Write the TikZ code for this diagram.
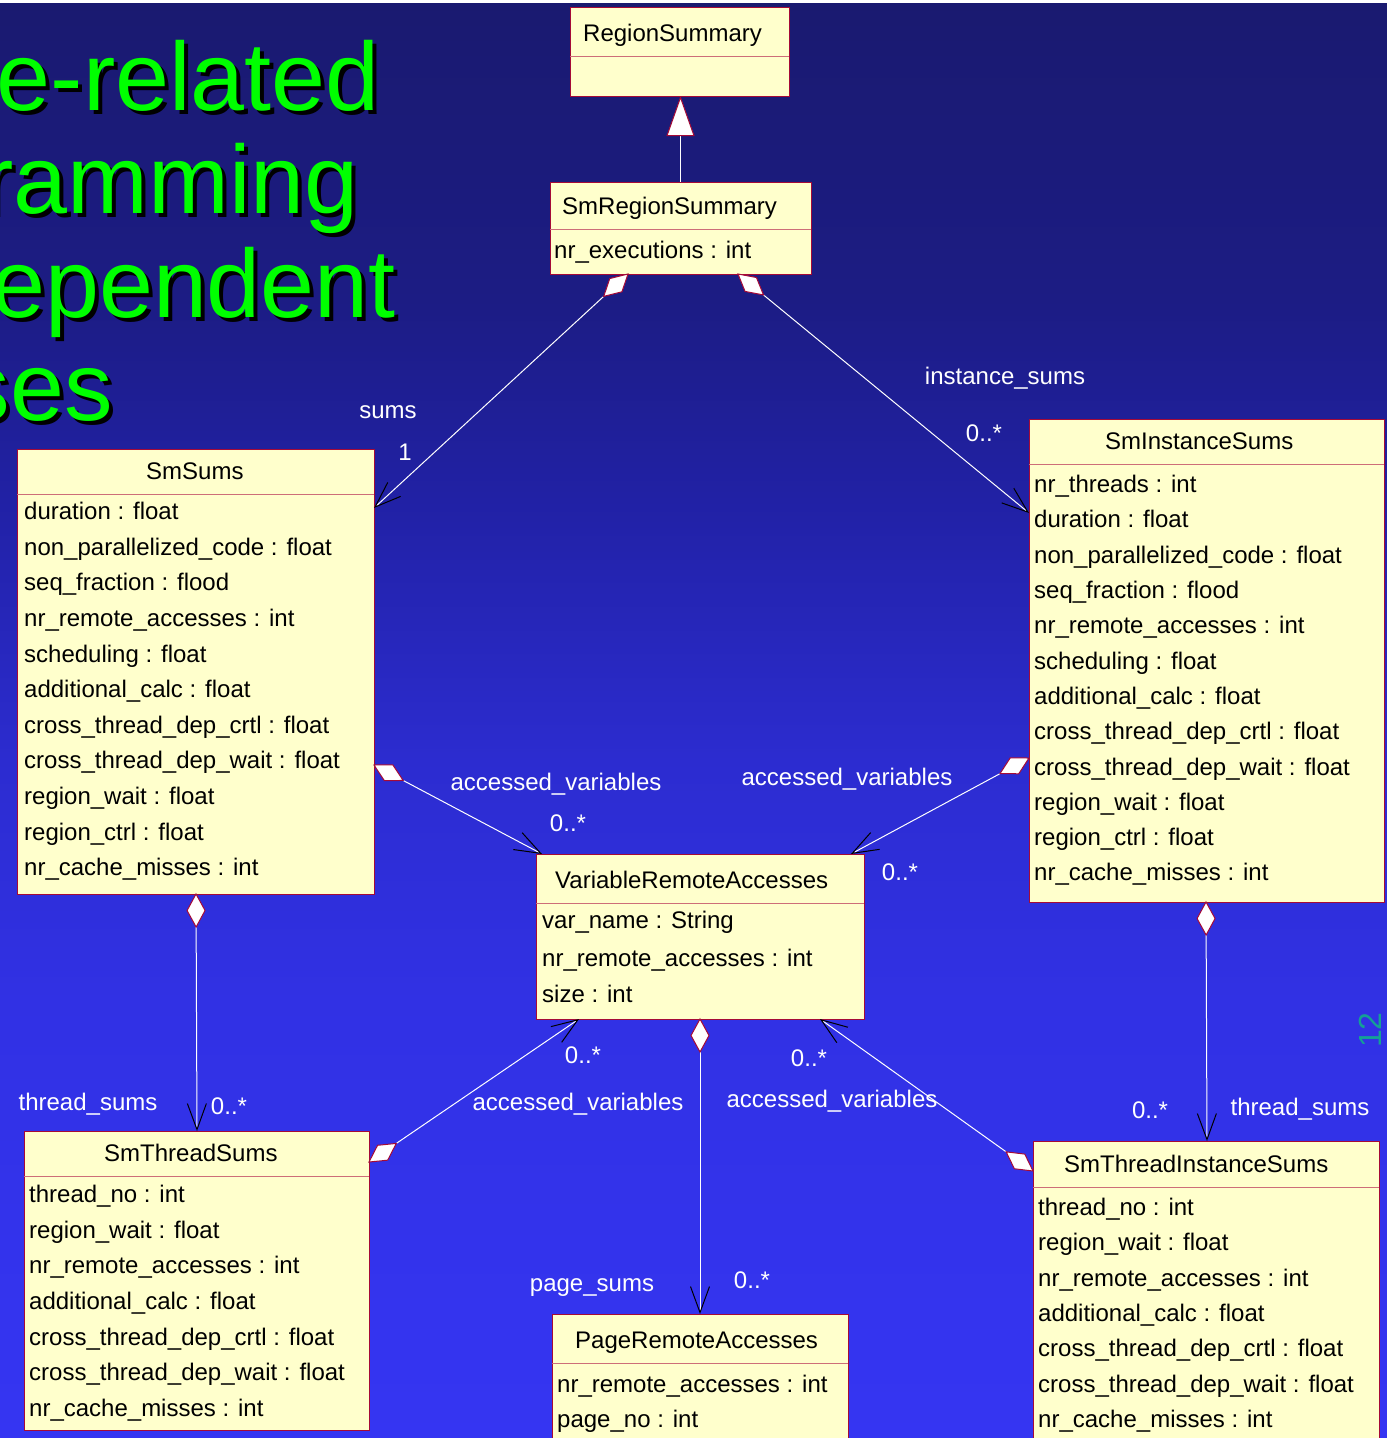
\documentclass[tikz,border=0pt]{standalone}
\usepackage{fontspec}
\setmainfont{Liberation Sans}
\usetikzlibrary{calc,arrows.meta}

\definecolor{bgA}{RGB}{26,26,112}
\definecolor{bgB}{RGB}{28,28,132}
\definecolor{bgC}{RGB}{33,33,165}
\definecolor{bgD}{RGB}{44,44,208}
\definecolor{bgE}{RGB}{49,49,228}
\definecolor{bgF}{RGB}{53,53,242}
\definecolor{boxfill}{RGB}{255,255,204}
\definecolor{boxred}{RGB}{165,10,55}
\definecolor{divred}{RGB}{205,110,120}
\definecolor{titlegreen}{RGB}{0,255,0}
\definecolor{pageteal}{RGB}{20,160,150}

% aggregation: white diamond at the whole end (#1), open arrow at the part end (#2)
\newcommand{\aggline}[2]{%
  \draw[nav] ($(#1)!33pt!(#2)$) -- (#2);
  \filldraw[diam] (#1) -- ($(#1)!16.5pt!(#2)!9pt!90:(#2)$) -- ($(#1)!33pt!(#2)$)
    -- ($(#1)!16.5pt!(#2)!9pt!-90:(#2)$) -- cycle;}

\begin{document}
\begin{tikzpicture}[x=1pt,y=-1pt,
  box/.style={draw=boxred, fill=boxfill, line width=1pt, anchor=north west,
    inner sep=0pt, outer sep=0pt},
  divider/.style={draw=divred, line width=1pt},
  cls/.style={font=\fontsize{24}{28}\selectfont, anchor=mid west, inner sep=0pt, yshift=-4pt},
  lbl/.style={font=\fontsize{24}{28}\selectfont, text=white, anchor=mid, inner sep=0pt, yshift=-4pt},
  conn/.style={draw=white, line width=1pt},
  nav/.style={conn, -{Straight Barb[length=26pt,width=19pt,color=black,line width=1pt]}},
  diam/.style={fill=white, draw=boxred, line width=1pt, line join=miter},
  big/.style={font=\fontsize{97}{100}\selectfont, anchor=base east, inner sep=0pt},
]
\useasboundingbox (0,0) rectangle (1387,1438);
\clip (0,0) rectangle (1387,1438);

% slide background
\fill[white] (0,0) rectangle (1387,3);
\shade[top color=bgA, bottom color=bgB] (0,3) rectangle (1387,300.5);
\shade[top color=bgB, bottom color=bgC] (0,300) rectangle (1387,500.5);
\shade[top color=bgC, bottom color=bgD] (0,500) rectangle (1387,760.5);
\shade[top color=bgD, bottom color=bgE] (0,760) rectangle (1387,1000.5);
\shade[top color=bgE, bottom color=bgF] (0,1000) rectangle (1387,1438);

% slide title (left part runs off the page)
\foreach \ln/\xe/\yb in {1/380/110, 2/359/213, 3/396/317, 4/113/420} {
  \coordinate (tb\ln) at (\xe,\yb);
}
\node[big, text=black] (t1s) at ($(tb1)+(4,4)$) {ce-related};
\node[big, text=titlegreen] (t1) at (tb1) {ce-related};
\node[big, text=black] (t2s) at ($(tb2)+(4,4)$) {ramming};
\node[big, text=titlegreen] (t2) at (tb2) {ramming};
\node[big, text=black] (t3s) at ($(tb3)+(4,4)$) {ependent};
\node[big, text=titlegreen] (t3) at (tb3) {ependent};
\node[big, text=black] (t4s) at ($(tb4)+(4,4)$) {ses};
\node[big, text=titlegreen] (t4) at (tb4) {ses};

% page number
\node[rotate=90, text=pageteal, font=\fontsize{32}{32}\selectfont, inner sep=0pt] (pageno) at (1370,1030) {12};

% ---------- classes ----------
\node[box, minimum width=219pt, minimum height=89pt] (rs) at (570,7) {};
\draw[divider] ($(rs.north west)+(0,49)$) -- ($(rs.north east)+(0,49)$);
\node[cls] (rs-n) at (583,35) {RegionSummary};

\node[box, minimum width=261pt, minimum height=92pt] (srs) at (550,182) {};
\draw[divider] ($(srs.north west)+(0,47)$) -- ($(srs.north east)+(0,47)$);
\node[cls] (srs-n) at (562,208) {SmRegionSummary};
\node[cls] (srs-a0) at (554,252) {nr\_executions : int};

\node[box, minimum width=357pt, minimum height=445pt] (ss) at (17,449) {};
\draw[divider] ($(ss.north west)+(0,45)$) -- ($(ss.north east)+(0,45)$);
\node[cls] (ss-n) at (146,473) {SmSums};
\foreach [count=\i from 0] \t in {duration : float, non\_parallelized\_code : float,
  seq\_fraction : flood, nr\_remote\_accesses : int, scheduling : float,
  additional\_calc : float, cross\_thread\_dep\_crtl : float,
  cross\_thread\_dep\_wait : float, region\_wait : float, region\_ctrl : float,
  nr\_cache\_misses : int}
  \node[cls] (ss-a\i) at (24,{513+35.6*\i}) {\t};

\node[box, minimum width=355pt, minimum height=483pt] (sis) at (1029,419) {};
\draw[divider] ($(sis.north west)+(0,45)$) -- ($(sis.north east)+(0,45)$);
\node[cls] (sis-n) at (1105,443) {SmInstanceSums};
\foreach [count=\i from 0] \t in {nr\_threads : int, duration : float,
  non\_parallelized\_code : float, seq\_fraction : flood,
  nr\_remote\_accesses : int, scheduling : float, additional\_calc : float,
  cross\_thread\_dep\_crtl : float, cross\_thread\_dep\_wait : float,
  region\_wait : float, region\_ctrl : float, nr\_cache\_misses : int}
  \node[cls] (sis-a\i) at (1034,{486+35.3*\i}) {\t};

\node[box, minimum width=328pt, minimum height=165pt] (vra) at (536,854) {};
\draw[divider] ($(vra.north west)+(0,49)$) -- ($(vra.north east)+(0,49)$);
\node[cls] (vra-n) at (555,882) {VariableRemoteAccesses};
\node[cls] (vra-a0) at (542,922) {var\_name : String};
\node[cls] (vra-a1) at (542,960) {nr\_remote\_accesses : int};
\node[cls] (vra-a2) at (542,996) {size : int};

\node[box, minimum width=345pt, minimum height=299pt] (sts) at (24,1131) {};
\draw[divider] ($(sts.north west)+(0,45)$) -- ($(sts.north east)+(0,45)$);
\node[cls] (sts-n) at (104,1155) {SmThreadSums};
\foreach [count=\i from 0] \t in {thread\_no : int, region\_wait : float,
  nr\_remote\_accesses : int, additional\_calc : float,
  cross\_thread\_dep\_crtl : float, cross\_thread\_dep\_wait : float,
  nr\_cache\_misses : int}
  \node[cls] (sts-a\i) at (29,{1196+35.6*\i}) {\t};

\node[box, minimum width=296pt, minimum height=146pt] (pra) at (552,1314) {};
\draw[divider] ($(pra.north west)+(0,49)$) -- ($(pra.north east)+(0,49)$);
\node[cls] (pra-n) at (575,1342) {PageRemoteAccesses};
\node[cls] (pra-a0) at (557,1386) {nr\_remote\_accesses : int};
\node[cls] (pra-a1) at (557,1421) {page\_no : int};

\node[box, minimum width=346pt, minimum height=319pt] (stis) at (1033,1141) {};
\draw[divider] ($(stis.north west)+(0,46)$) -- ($(stis.north east)+(0,46)$);
\node[cls] (stis-n) at (1064,1166) {SmThreadInstanceSums};
\foreach [count=\i from 0] \t in {thread\_no : int, region\_wait : float,
  nr\_remote\_accesses : int, additional\_calc : float,
  cross\_thread\_dep\_crtl : float, cross\_thread\_dep\_wait : float,
  nr\_cache\_misses : int}
  \node[cls] (stis-a\i) at (1038,{1209+35.3*\i}) {\t};

% ---------- relations ----------
% generalization
\draw[conn, -{Triangle[length=40pt,width=28pt,fill=white,color=boxred,line width=1pt]}]
  (srs.north) -- (srs.north |- rs.south);

% end points on the class borders
\coordinate (p-sums) at ($(srs.south west)+(78,0)$);
\coordinate (q-sums) at ($(ss.north east)+(0,59)$);
\coordinate (p-inst) at ($(srs.south west)+(188,0)$);
\coordinate (q-inst) at ($(sis.north west)+(0,94)$);
\coordinate (p-ssv) at ($(ss.north east)+(0,316)$);
\coordinate (q-ssv) at ($(vra.north west)+(6,0)$);
\coordinate (p-sisv) at ($(sis.north west)+(0,339)$);
\coordinate (q-sisv) at ($(vra.north west)+(315,0)$);
\coordinate (p-stsv) at ($(sts.north east)+(0,31)$);
\coordinate (q-stsv) at ($(vra.south west)+(43,0)$);
\coordinate (p-stisv) at ($(stis.north west)+(0,30)$);
\coordinate (q-stisv) at ($(vra.south west)+(284,0)$);
\coordinate (p-ssts) at ($(ss.south west)+(179,0)$);
\coordinate (q-ssts) at ($(sts.north west)+(173,0)$);
\coordinate (p-sisth) at ($(sis.south west)+(177,0)$);
\coordinate (q-sisth) at ($(stis.north west)+(174,0)$);
\coordinate (p-page) at ($(vra.south west)+(164,0)$);
\coordinate (q-page) at ($(pra.north west)+(148,0)$);

\aggline{p-sums}{q-sums}
\aggline{p-inst}{q-inst}
\aggline{p-ssv}{q-ssv}
\aggline{p-sisv}{q-sisv}
\aggline{p-stsv}{q-stsv}
\aggline{p-stisv}{q-stisv}
\aggline{p-ssts}{q-ssts}
\aggline{p-sisth}{q-sisth}
\aggline{p-page}{q-page}

% role names and multiplicities
\node[lbl] (l-sums) at (388,412) {sums};
\node[lbl] (m-sums) at (405,454) {1};
\node[lbl] (l-inst) at (1005,378) {instance\_sums};
\node[lbl] (m-inst) at (984,435) {0..*};
\node[lbl] (l-ssv) at (556,784) {accessed\_variables};
\node[lbl] (m-ssv) at (568,825) {0..*};
\node[lbl] (l-sisv) at (847,779) {accessed\_variables};
\node[lbl] (m-sisv) at (900,874) {0..*};
\node[lbl] (m-stsv) at (583,1057) {0..*};
\node[lbl] (l-stsv) at (578,1104) {accessed\_variables};
\node[lbl] (m-stisv) at (809,1060) {0..*};
\node[lbl] (l-stisv) at (832,1101) {accessed\_variables};
\node[lbl] (l-ssts) at (88,1104) {thread\_sums};
\node[lbl] (m-ssts) at (229,1108) {0..*};
\node[lbl] (m-sisth) at (1150,1112) {0..*};
\node[lbl] (l-sisth) at (1300,1109) {thread\_sums};
\node[lbl] (l-page) at (592,1285) {page\_sums};
\node[lbl] (m-page) at (752,1282) {0..*};
\end{tikzpicture}
\end{document}
